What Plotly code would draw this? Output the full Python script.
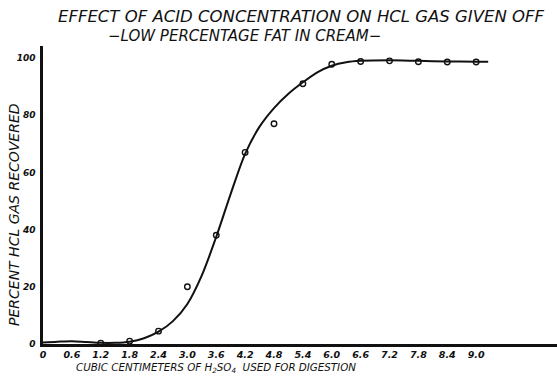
import plotly.graph_objects as go

# Measured recovery of HCl gas against volume of acid used
acid_cc = [1.2, 1.8, 2.4, 3.0, 3.6, 4.2, 4.8, 5.4, 6.0, 6.6, 7.2, 7.8, 8.4, 9.0]
recovered = [0.3, 1.0, 4.5, 20.0, 38.0, 67.0, 77.0, 91.0, 97.8, 98.8, 99.0, 98.7, 98.6, 98.6]

# Smooth fitted curve drawn through the measurements
curve_x = [0.0, 0.3, 0.6, 0.9, 1.2, 1.5, 1.8, 2.1, 2.4, 2.7, 3.0, 3.3, 3.6, 3.9,
           4.2, 4.5, 4.8, 5.1, 5.4, 5.7, 6.0, 6.3, 6.6, 7.2, 7.8, 8.4, 9.0, 9.25]
curve_y = [0.5, 0.8, 1.0, 0.7, 0.4, 0.4, 0.8, 2.0, 4.3, 8.0, 14.0, 24.0, 37.5, 52.5,
           66.5, 76.0, 82.5, 87.5, 91.5, 95.0, 97.3, 98.5, 99.0, 99.2, 99.0, 98.8, 98.7, 98.7]

x_ticks = [0, 0.6, 1.2, 1.8, 2.4, 3.0, 3.6, 4.2, 4.8, 5.4, 6.0, 6.6, 7.2, 7.8, 8.4, 9.0]
x_tick_text = ["0", "0.6", "1.2", "1.8", "2.4", "3.0", "3.6", "4.2", "4.8",
               "5.4", "6.0", "6.6", "7.2", "7.8", "8.4", "9.0"]
y_ticks = [0, 20, 40, 60, 80, 100]
y_tick_text = ["0", "20", "40", "60", "80", "100"]

W, H = 557, 381
L, R, T, B = 43, 0, 46, 37
FONT = "DejaVu Sans"
INK = "#111111"


def px_to_paper(px, py):
    return (px - L) / (W - L - R), (H - B - py) / (H - T - B)


fig = go.Figure()
fig.add_trace(go.Scatter(
    x=curve_x, y=curve_y, mode="lines",
    line=dict(color=INK, width=2, shape="spline", smoothing=0.9),
    hoverinfo="skip", showlegend=False,
))
fig.add_trace(go.Scatter(
    x=acid_cc, y=recovered, mode="markers",
    marker=dict(symbol="circle-open", size=5.5, color=INK, line=dict(width=1.4, color=INK)),
    showlegend=False,
))

fig.update_xaxes(
    range=[0, 10.68], tickvals=x_ticks, ticktext=x_tick_text,
    showgrid=False, zeroline=False, showline=True, linecolor=INK, linewidth=2.5,
    ticks="", ticklabelstandoff=0,
    tickfont=dict(family=FONT, size=9.5, color=INK, style="italic", weight="bold"),
)
fig.update_yaxes(
    range=[0, 104.2], tickvals=y_ticks, ticktext=y_tick_text,
    showgrid=False, zeroline=False, showline=True, linecolor=INK, linewidth=2.5,
    ticks="", ticklabelstandoff=3,
    tickfont=dict(family=FONT, size=9, color=INK, style="italic", weight="bold"),
)

annos = [
    ("EFFECT OF ACID CONCENTRATION ON HCL GAS GIVEN OFF", 301, 16, 16.5, 0),
    ("\u2212LOW PERCENTAGE FAT IN CREAM\u2212", 244, 36, 15, 0),
    ("CUBIC CENTIMETERS OF H<sub>2</sub>SO<sub>4</sub>  USED FOR DIGESTION", 216, 368, 10.3, 0),
    ("PERCENT HCL GAS RECOVERED", 14, 215, 14, -90),
]
for text, px, py, size, angle in annos:
    ax, ay = px_to_paper(px, py)
    fig.add_annotation(
        text=text, x=ax, y=ay, xref="paper", yref="paper",
        xanchor="center", yanchor="middle", showarrow=False,
        font=dict(family=FONT, size=size, color=INK, style="italic"),
        textangle=angle,
    )

fig.update_layout(
    width=W, height=H,
    margin=dict(l=L, r=R, t=T, b=B),
    paper_bgcolor="white", plot_bgcolor="white",
)

fig.write_html("out.html")
